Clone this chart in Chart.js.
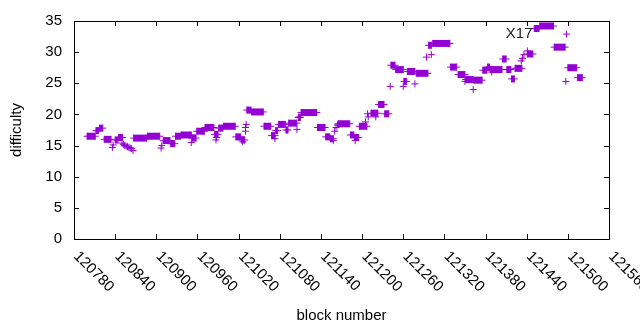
<!DOCTYPE html>
<html>
<head>
<meta charset="utf-8">
<script src="https://cdn.jsdelivr.net/npm/chart.js@4"></script>
<style>
  html, body { margin: 0; padding: 0; background: #fff; }
</style>
</head>
<body>
<canvas id="chart" width="640" height="330" style="width:640px;height:330px"></canvas>
<script>
// Tramos con la misma dificultad (bloque inicial, bloque final, dificultad)
const runStart = [120799, 120812, 120817, 120824, 120840, 120845, 120867, 120887, 120910, 120921,
  120928, 120936, 120952, 120959, 120971, 120985, 120991, 120998, 121016, 121024,
  121032, 121039, 121057, 121068, 121074, 121078, 121089, 121093, 121107, 121111,
  121135, 121147, 121154, 121165, 121183, 121189, 121196, 121213, 121224, 121233,
  121242, 121249, 121261, 121266, 121279, 121297, 121303, 121329, 121340, 121351,
  121363, 121376, 121383, 121387, 121405, 121411, 121418, 121423, 121441, 121451,
  121459, 121480, 121500, 121514];
const runEnd = [120811, 120816, 120822, 120834, 120844, 120851, 120886, 120905, 120920, 120927,
  120935, 120951, 120958, 120970, 120984, 120990, 120997, 121015, 121023, 121029,
  121038, 121056, 121067, 121073, 121077, 121088, 121092, 121105, 121110, 121134,
  121146, 121153, 121158, 121182, 121188, 121195, 121207, 121223, 121232, 121239,
  121248, 121260, 121265, 121277, 121296, 121301, 121328, 121338, 121350, 121362,
  121375, 121382, 121386, 121404, 121410, 121417, 121422, 121433, 121449, 121458,
  121479, 121496, 121513, 121521];
const runDiff = [16.5, 17.4, 17.8, 16.0, 15.9, 16.3, 16.2, 16.5, 15.8, 15.3,
  16.5, 16.7, 16.2, 17.3, 17.9, 16.8, 17.8, 18.1, 16.4, 15.9,
  20.7, 20.4, 18.1, 16.6, 17.4, 18.4, 17.5, 18.6, 19.5, 20.3,
  17.9, 16.4, 16.1, 18.5, 16.7, 16.3, 18.1, 20.2, 21.6, 20.1,
  27.9, 27.2, 25.3, 26.9, 26.6, 31.1, 31.4, 27.6, 26.4, 25.6,
  25.5, 27.1, 27.6, 27.2, 28.9, 27.2, 25.7, 27.4, 29.7, 33.8,
  34.2, 30.8, 27.5, 25.9];

// Bloques sueltos
const pointBlock = [120836, 120837, 120850, 120852, 120854, 120856, 120858, 120860, 120862, 120864,
  120866, 120907, 120908, 120951, 120987, 120988, 121026, 121030, 121030, 121031,
  121073, 121105, 121108, 121158, 121160, 121162, 121164, 121190, 121205, 121208,
  121209, 121220, 121241, 121260, 121277, 121294, 121301, 121350, 121362, 121389,
  121432, 121434, 121436, 121441, 121497, 121498];
const pointDiff = [14.7, 15.1, 15.4, 15.2, 15.0, 14.9, 14.8, 14.7, 14.6, 14.5,
  14.2, 14.6, 15.0, 15.5, 15.9, 16.3, 15.6, 17.3, 17.9, 18.4,
  16.1, 17.6, 19.6, 15.8, 17.3, 17.9, 18.3, 15.8, 18.8, 20.1,
  19.6, 19.6, 24.5, 24.5, 24.9, 29.2, 29.6, 25.3, 24.0, 26.8,
  28.6, 29.0, 29.6, 30.2, 25.3, 32.9];

// Ejes
const xTicks = [120780, 120840, 120900, 120960, 121020, 121080, 121140, 121200,
  121260, 121320, 121380, 121440, 121500, 121560];
const yTicks = [0, 5, 10, 15, 20, 25, 30, 35];

// Etiqueta dentro del grafico
const noteText = 'X17';
const noteBlock = 121429;
const noteDiff = 33.0;

const purple = '#9400d3';
const fontFamily = '"Liberation Sans", Arial, sans-serif';

const datasets = runStart.map((s, i) => ({
  data: [{ x: s, y: runDiff[i] }, { x: runEnd[i], y: runDiff[i] }],
  showLine: true,
  borderColor: purple,
  borderWidth: 7,
  borderCapStyle: 'butt',
  pointStyle: 'cross',
  pointRadius: 3.5,
  pointBorderWidth: 1,
  pointBorderColor: purple,
}));

datasets.push({
  data: pointBlock.map((b, i) => ({ x: b, y: pointDiff[i] })),
  pointStyle: 'cross',
  pointRadius: 3.5,
  pointBorderWidth: 1,
  pointBorderColor: purple,
  borderColor: purple,
});

// Marco, marcas hacia dentro y etiquetas giradas (estilo gnuplot)
const framePlugin = {
  id: 'frame',
  afterDatasetsDraw(chart) {
    const { ctx, chartArea: a, scales: { x, y } } = chart;
    ctx.save();
    ctx.strokeStyle = '#000';
    ctx.lineWidth = 1;
    ctx.strokeRect(a.left + 0.5, a.top + 0.5, a.right - a.left, a.bottom - a.top);

    ctx.beginPath();
    xTicks.forEach(v => {
      const px = Math.round(x.getPixelForValue(v)) + 0.5;
      ctx.moveTo(px, a.bottom); ctx.lineTo(px, a.bottom - 5);
      ctx.moveTo(px, a.top); ctx.lineTo(px, a.top + 5);
    });
    yTicks.forEach(v => {
      const py = Math.round(y.getPixelForValue(v)) + 0.5;
      ctx.moveTo(a.left, py); ctx.lineTo(a.left + 5, py);
      ctx.moveTo(a.right, py); ctx.lineTo(a.right - 5, py);
    });
    ctx.stroke();

    ctx.fillStyle = '#000';
    ctx.font = '15px ' + fontFamily;
    ctx.textAlign = 'left';
    ctx.textBaseline = 'middle';
    xTicks.forEach(v => {
      ctx.save();
      ctx.translate(x.getPixelForValue(v) + 2, a.bottom + 15);
      ctx.rotate(Math.PI / 4);
      ctx.fillText(String(v), 0, 0);
      ctx.restore();
    });

    ctx.fillStyle = '#222';
    ctx.textAlign = 'center';
    ctx.fillText(noteText, x.getPixelForValue(noteBlock), y.getPixelForValue(noteDiff));
    ctx.restore();
  }
};

new Chart(document.getElementById('chart').getContext('2d'), {
  type: 'scatter',
  data: { datasets },
  options: {
    responsive: false,
    animation: false,
    devicePixelRatio: 1,
    layout: { padding: { left: 0, right: 31, top: 19, bottom: 0 } },
    plugins: { legend: { display: false }, tooltip: { enabled: false } },
    scales: {
      x: {
        type: 'linear',
        min: 120780,
        max: 121560,
        afterFit(s) { s.height = 91; },
        afterBuildTicks(s) { s.ticks = xTicks.map(v => ({ value: v })); },
        ticks: { display: false },
        grid: { display: false, drawTicks: false },
        border: { display: false },
        title: {
          display: true,
          text: 'block number',
          color: '#000',
          font: { family: fontFamily, size: 15 },
          padding: { top: 0, bottom: 5 },
        },
      },
      y: {
        min: 0,
        max: 35,
        afterFit(s) { s.width = 74; },
        afterBuildTicks(s) { s.ticks = yTicks.map(v => ({ value: v })); },
        ticks: { padding: 12, color: '#000', font: { family: fontFamily, size: 15 } },
        grid: { display: false, drawTicks: false },
        border: { display: false },
        title: {
          display: true,
          text: 'difficulty',
          color: '#000',
          font: { family: fontFamily, size: 15 },
          padding: { top: 8, bottom: 0 },
        },
      },
    },
  },
  plugins: [framePlugin],
});
</script>
</body>
</html>
